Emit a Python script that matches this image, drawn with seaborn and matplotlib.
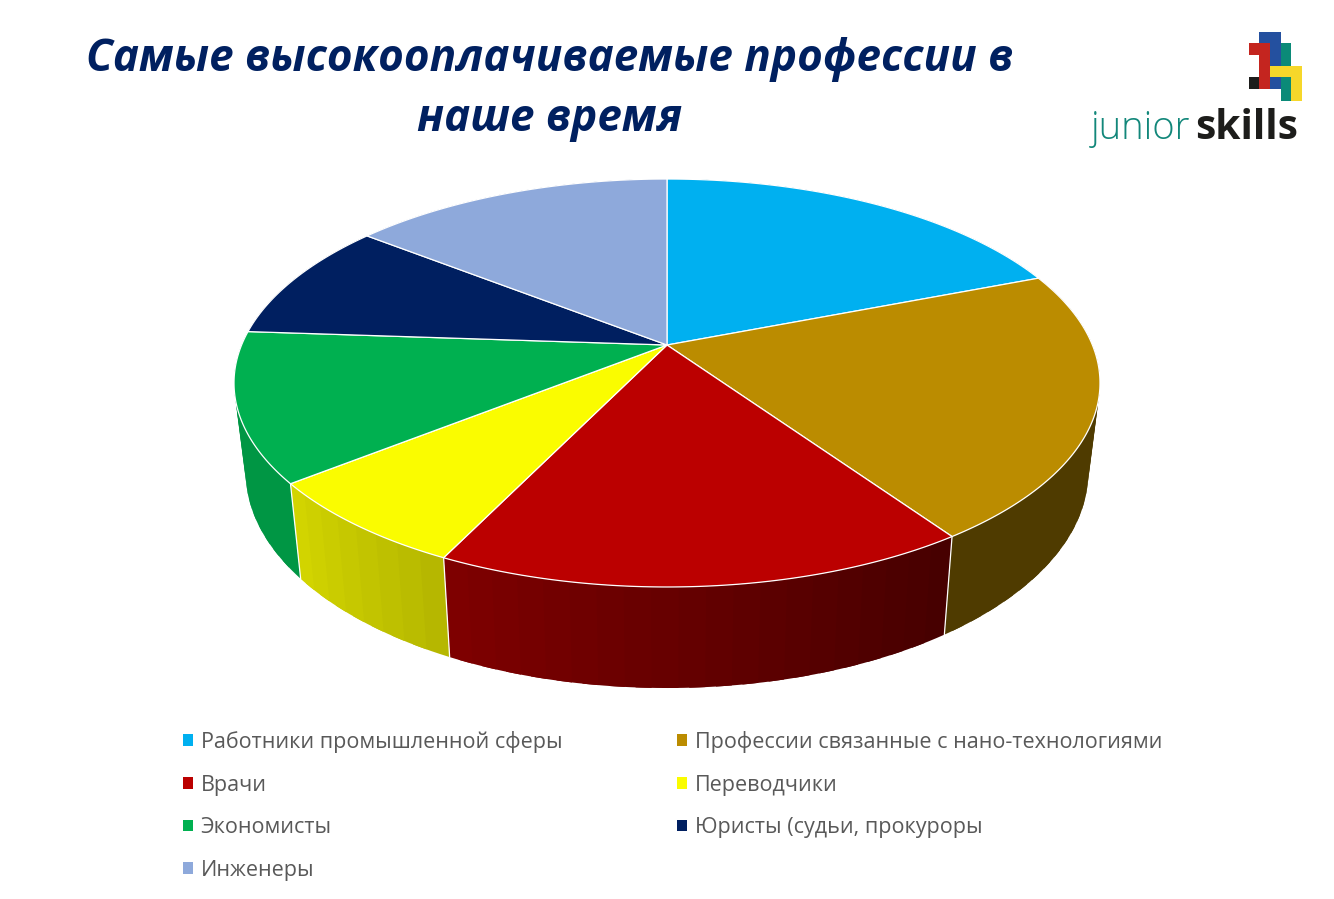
import numpy as np
import matplotlib
matplotlib.use("Agg")
import matplotlib.pyplot as plt
from matplotlib.patches import Patch, Rectangle
import seaborn as sns

categories = ["Работники промышленной сферы", "Профессии связанные с нано-технологиями",
              "Врачи", "Переводчики", "Экономисты", "Юристы (судьи, прокуроры", "Инженеры"]
values = [19.1, 21.3, 16.8, 7.1, 11.8, 9.5, 14.4]
colors = ["#00B0F0", "#BB8C00", "#BB0000", "#FAFC00", "#00B050", "#001F60", "#8EA9DB"]
shade_right = [0.42, 0.42, 0.37, 0.72, 0.85, 0.5, 0.5]
shade_left = [0.42, 0.42, 0.68, 0.85, 0.85, 0.5, 0.5]
title_lines = ["Самые высокооплачиваемые профессии в", "наше время"]

sns.set_theme(style="white")
plt.rcParams["font.family"] = ["Open Sans", "DejaVu Sans"]
palette = sns.color_palette(colors)

W, H = 1334, 899
fig = plt.figure(figsize=(W / 100, H / 100), dpi=100)
ax = fig.add_axes([0, 0, 1, 1])
ax.set_xlim(0, W)
ax.set_ylim(H, 0)
ax.axis("off")

CX, CY = 667.0, 345.0
A, B, C = 425.4, 196.9, 0.1863


def top(theta):
    u, v = np.sin(theta), np.cos(theta)
    d = 1 + C * v
    return CX + A * u / d, CY - B * v / d


def bottom(theta):
    x, y = top(theta)
    return CX + 0.973 * (x - CX), CY - (1.058 * (CY - y) - 87)


edges = np.cumsum([0] + values) / sum(values) * 2 * np.pi

# side wall, faceted for the gradient; each facet runs on under the next to hide seams
for i in range(len(values)):
    n = max(int(np.degrees(edges[i + 1] - edges[i]) / 3), 2)
    th = np.linspace(edges[i], edges[i + 1], n + 1)
    step = th[1] - th[0]
    for j in range(n):
        t = (j + 0.5) / n
        s = shade_right[i] + (shade_left[i] - shade_right[i]) * t
        col = tuple(np.array(palette[i]) * s)
        seg = np.linspace(th[j], min(th[j] + 1.6 * step, edges[i + 1]), 5)
        xt, yt = top(seg)
        xb, yb = bottom(seg)
        ax.fill(np.r_[xt, xb[::-1]], np.r_[yt, yb[::-1]], color=col, lw=0, zorder=2)
    xt, yt = top(edges[i])
    xb, yb = bottom(edges[i])
    ax.plot([xt, xb], [yt, yb], color="white", lw=0.9, zorder=3)

# top face
for i in range(len(values)):
    th = np.linspace(edges[i], edges[i + 1], 120)
    x, y = top(th)
    ax.fill(np.r_[CX, x], np.r_[CY, y], facecolor=palette[i], edgecolor="white", lw=0.9,
            joinstyle="round", zorder=4)

# title
for line, y in zip(title_lines, [60, 120]):
    ax.text(550, y, line, ha="center", va="center", fontsize=31.7, fontweight="bold",
            fontstyle="italic", color="#002060", family=["Open Sans", "DejaVu Sans"])

# legend: matplotlib fills columns first, the picture reads by rows
order = [0, 2, 4, 6, 1, 3, 5]
handles = [Patch(facecolor=palette[i], edgecolor="none", label=categories[i]) for i in order]
leg = ax.legend(handles=handles, ncol=2, frameon=False, loc="upper left",
                bbox_to_anchor=(183 / W, 1 - 731 / H), bbox_transform=ax.transAxes,
                fontsize=15.5, labelcolor="#595959", handlelength=0.46, handleheight=0.46,
                handletextpad=0.36, labelspacing=1.0, columnspacing=5.34, borderpad=0, borderaxespad=0)

# logo
logo = [("#24509F", 1259, 32, 22, 34), ("#24509F", 1270, 66, 11, 23), ("#0B8A78", 1281, 43, 10, 23),
        ("#0B8A78", 1281, 77, 10, 24), ("#C4251F", 1249, 43, 21, 12), ("#C4251F", 1259, 43, 11, 46),
        ("#1D1D1B", 1249, 77, 10, 12), ("#F6D72A", 1270, 66, 32, 11), ("#F6D72A", 1291, 66, 11, 35)]
for col, x, y, w, h in logo:
    ax.add_patch(Rectangle((x, y), w, h, facecolor=col, edgecolor="none", zorder=5))
ax.text(1091, 139, "junior", fontsize=27.5, color="#12877A", family="Open Sans", fontweight="light",
        ha="left", va="baseline")
ax.text(1195, 139, "skills", fontsize=29.3, color="#1D1D1B", family="Open Sans", fontweight="bold",
        ha="left", va="baseline")

fig.savefig("out.png", dpi=100)
